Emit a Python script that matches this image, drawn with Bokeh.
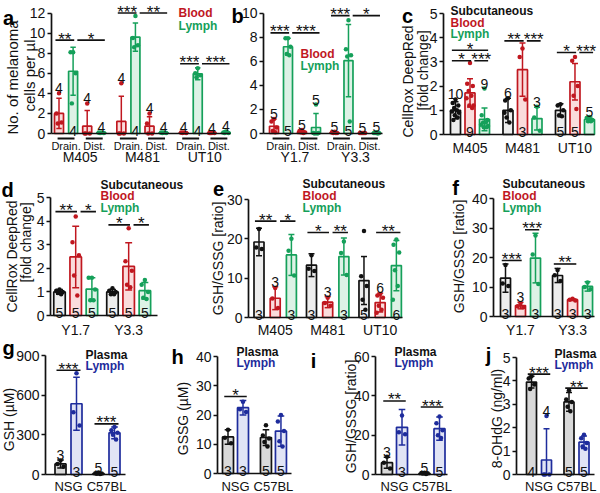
import math
from bokeh.plotting import figure
from bokeh.models import Range1d, FixedTicker, LinearAxis, Label, ColumnDataSource
from bokeh.layouts import row, column
from bokeh.embed import file_html
from bokeh.resources import INLINE
from bokeh.core.properties import value

FONT = "Liberation Sans"
INK = "#111111"
RED = "#C0171F"
GREEN = "#15A05A"
BLUE = "#1E2C9C"
SUB_FILL = "#EDEDED"
RED_FILL = "#FADCDC"
GREEN_FILL = "#DDF2E6"
BLUE_FILL = "#E1E4F5"
PLASMA_FILL = "#D9D9D9"

# ---------------- data ----------------
# a : melanoma cells per ul
a_groups = ["M405", "M481", "UT10"]
a_sites = ["Drain.", "Dist."]
a_series = ["Blood", "Lymph"]
a_mean = [2.0, 6.2, 0.73, 0.1, 1.2, 9.6, 0.73, 0.1, 0.08, 5.95, 0.05, 0.1]
a_sd = [1.5, 2.4, 1.55, 0.05, 2.5, 1.4, 0.95, 0.05, 0.05, 0.6, 0.03, 0.15]
a_n = [4, 4, 4, 4, 4, 4, 4, 4, 4, 4, 4, 4]
a_points = [[4.0, 2.0, 1.1, 1.0], [8.1, 8.1, 6.0, 3.0], [3.0, 0.0, 0.0, 0.0], [0.1, 0.1, 0.05, 0.05],
            [5.0, 0.0, 0.0, 0.0], [11.7, 9.5, 8.8, 8.6], [2.0, 1.0, 0.0, 0.0], [0.1, 0.1, 0.05, 0.05],
            [0.1, 0.1, 0.05, 0.05], [6.5, 6.0, 5.8, 5.6], [0.05, 0.05, 0.05, 0.05], [0.2, 0.1, 0.05, 0.05]]
a_inside = [False, True, False, False, False, True, False, False, False, True, False, False]
a_sig = [(0, 1, 9.3, "**"), (1, 3, 9.3, "*"), (4, 5, 12.0, "***"), (5, 7, 12.0, "**"),
         (8, 9, 6.94, "***"), (9, 11, 6.94, "***")]
a_yticks = [0, 2, 4, 6, 8, 10, 12]

# b
b_groups = ["Y1.7", "Y3.3"]
b_sites = ["Drain.", "Dist."]
b_series = ["Blood", "Lymph"]
b_mean = [0.6, 7.2, 0.15, 0.5, 0.08, 6.05, 0.03, 0.05]
b_sd = [0.6, 0.7, 0.1, 1.15, 0.05, 3.0, 0.02, 0.05]
b_n = [5, 5, 5, 5, 5, 5, 5, 5]
b_points = [[1.2, 1.0, 0.5, 0.2, 0.1], [7.9, 7.9, 7.2, 6.6, 6.5], [0.3, 0.2, 0.1, 0.1, 0.05],
            [2.4, 0.05, 0.05, 0.0, 0.0], [0.15, 0.1, 0.05, 0.05, 0.05], [9.4, 7.0, 6.5, 6.4, 1.0],
            [0.05, 0.05, 0.05, 0.05, 0.05], [0.1, 0.05, 0.05, 0.05, 0.0]]
b_inside = [False, True, False, False, False, True, False, False]
b_sig = [(0, 1, 8.35, "***"), (1, 3, 8.35, "***"), (4, 5, 9.78, "***"), (5, 7, 9.78, "*")]
b_yticks = [0, 2, 4, 6, 8, 10]

# c
c_groups = ["M405", "M481", "UT10"]
c_series = ["Subcutaneous", "Blood", "Lymph"]
c_mean = [1.0, 1.72, 0.63, 1.0, 2.68, 0.66, 1.0, 2.18, 0.62]
c_sd = [0.35, 0.58, 0.47, 0.5, 1.1, 0.47, 0.27, 0.75, 0.1]
c_n = [10, 9, 9, 6, 3, 3, 5, 5, 5]
c_points = [[1.45, 1.3, 1.2, 1.1, 1.0, 0.95, 0.9, 0.8, 0.7, 0.6],
            [2.95, 2.1, 2.0, 1.8, 1.6, 1.5, 1.2, 1.2, 1.1],
            [1.9, 0.8, 0.6, 0.5, 0.5, 0.4, 0.35, 0.3, 0.3],
            [1.5, 1.4, 1.0, 0.7, 0.5, 0.9], [3.55, 3.2, 1.45], [1.15, 0.7, 0.15],
            [1.25, 1.2, 1.0, 0.8, 0.75], [3.2, 3.05, 2.0, 1.6, 1.05], [0.72, 0.68, 0.6, 0.55, 0.55]]
c_inside = [False, True, False, False, True, False, True, True, False]
c_sig = [(0, 2, 3.48, "*"), (0, 1, 3.05, "*"), (1, 2, 3.05, "***"), (3, 4, 3.87, "**"),
         (4, 5, 3.87, "***"), (6, 7, 3.39, "*"), (7, 8, 3.39, "***")]
c_yticks = [0, 1, 2, 3, 4, 5]

# d
d_groups = ["Y1.7", "Y3.3"]
d_series = ["Subcutaneous", "Blood", "Lymph"]
d_mean = [1.0, 2.48, 1.12, 1.0, 2.08, 1.05]
d_sd = [0.1, 1.3, 0.48, 0.1, 1.0, 0.35]
d_n = [5, 5, 5, 5, 5, 5]
d_points = [[1.1, 1.05, 1.0, 0.95, 0.9], [4.2, 3.1, 2.55, 1.7, 0.85], [1.6, 1.6, 1.1, 0.65, 0.65],
            [1.15, 1.05, 1.0, 0.9, 0.9], [3.7, 2.3, 1.9, 1.3, 1.2], [1.5, 1.3, 1.0, 0.75, 0.7]]
d_inside = [True, True, True, True, True, True]
d_sig = [(0, 1, 4.4, "**"), (1, 2, 4.4, "*"), (3, 4, 3.84, "*"), (4, 5, 3.84, "*")]
d_yticks = [0, 1, 2, 3, 4, 5]

# e
e_groups = ["M405", "M481", "UT10"]
e_series = ["Subcutaneous", "Blood", "Lymph"]
e_mean = [19.2, 4.9, 15.9, 13.3, 3.9, 15.5, 9.4, 3.8, 13.2]
e_sd = [3.5, 2.9, 5.2, 2.9, 1.4, 4.7, 6.1, 2.4, 6.4]
e_n = [3, 3, 3, 3, 3, 3, 5, 6, 6]
e_points = [[22.5, 17.8, 17.4], [7.5, 4.8, 2.4], [20.0, 17.0, 10.7],
            [15.8, 12.4, 11.8], [5.0, 3.7, 3.0], [19.3, 16.4, 10.8],
            [22.0, 10.5, 8.0, 4.5, 2.0], [6.0, 5.6, 5.0, 3.0, 2.0, 1.2],
            [19.8, 18.5, 16.5, 12.0, 8.0, 4.5]]
e_inside = [True, False, True, True, False, True, True, False, True]
e_sig = [(0, 1, 24.5, "**"), (1, 2, 24.5, "*"), (3, 4, 21.6, "*"), (4, 5, 21.6, "**"),
         (7, 8, 21.6, "**")]
e_yticks = [0, 10, 20, 30]

# f
f_groups = ["Y1.7", "Y3.3"]
f_series = ["Subcutaneous", "Blood", "Lymph"]
f_mean = [13.0, 3.7, 19.8, 13.9, 5.7, 10.2]
f_sd = [4.8, 1.1, 8.4, 2.4, 0.3, 1.6]
f_n = [3, 3, 3, 3, 3, 3]
f_points = [[17.5, 11.2, 10.3], [4.5, 3.5, 3.1], [27.5, 21.0, 11.0],
            [15.8, 14.0, 12.0], [6.0, 5.7, 5.4], [11.5, 10.0, 9.2]]
f_inside = [True, False, True, True, True, True]
f_sig = [(0, 1, 19.0, "***"), (1, 2, 29.4, "***"), (3, 4, 17.8, "**")]
f_yticks = [0, 10, 20, 30, 40]

# g
g_groups = ["NSG", "C57BL"]
g_series = ["Plasma", "Lymph"]
g_mean = [80, 535, 8, 315]
g_sd = [30, 200, 6, 45]
g_n = [3, 3, 5, 5]
g_points = [[105, 80, 58], [765, 470, 370], [15, 10, 8, 5, 3], [360, 335, 315, 300, 265]]
g_inside = [False, True, False, True]
g_sig = [(0, 1, 789, "***"), (2, 3, 383, "***")]
g_yticks = [0, 300, 600, 900]

# h
h_groups = ["NSG", "C57BL"]
h_series = ["Plasma", "Lymph"]
h_mean = [12.5, 22.5, 12.3, 14.5]
h_sd = [2.5, 2.5, 2.7, 5.2]
h_n = [3, 3, 5, 5]
h_points = [[15.0, 12.2, 10.3], [24.5, 22.0, 21.0], [16.5, 13.0, 12.0, 10.8, 9.2],
            [20.0, 17.8, 14.5, 11.0, 9.2]]
h_inside = [True, True, True, True]
h_sig = [(0, 1, 26.3, "*")]
h_yticks = [0, 10, 20, 30, 40]

# i
i_groups = ["NSG", "C57BL"]
i_series = ["Plasma", "Lymph"]
i_mean = [6.0, 24.0, 0.6, 23.3]
i_sd = [2.8, 9.0, 0.3, 5.9]
i_n = [3, 3, 5, 5]
i_points = [[9.0, 6.0, 3.0], [30.0, 21.5, 20.5], [0.9, 0.7, 0.6, 0.5, 0.3],
            [29.5, 26.0, 22.5, 20.0, 18.5]]
i_inside = [False, True, False, True]
i_sig = [(0, 1, 37.4, "**"), (2, 3, 34.3, "***")]
i_yticks = [0, 20, 40, 60]

# j
j_groups = ["NSG", "C57BL"]
j_series = ["Plasma", "Lymph"]
j_mean = [3.95, 0.62, 3.1, 1.38]
j_sd = [0.25, 1.33, 0.4, 0.27]
j_n = [4, 4, 5, 5]
j_points = [[4.2, 4.1, 3.85, 3.65], [2.5, 0.0, 0.0, 0.0], [3.6, 3.2, 3.1, 2.9, 2.7],
            [1.7, 1.55, 1.35, 1.2, 1.1]]
j_inside = [True, False, True, True]
j_sig = [(0, 1, 4.29, "***"), (2, 3, 3.69, "**")]
j_yticks = [0, 1, 2, 3, 4, 5]

# ---------------- layout helpers (pixel positions of the page) ----------------
ROWS = [(0, 170), (171, 167), (340, 156)]   # (y of row top on the reference grid, height)
OFF = [0.0, -0.28, 0.28, -0.14, 0.14, -0.35, 0.35, -0.07, 0.21, -0.21]


def style_axis(ax, size):
    ax.major_label_text_font = FONT
    ax.major_label_text_font_size = size
    ax.major_label_text_color = INK
    ax.axis_line_color = INK
    ax.axis_line_width = 1.7
    ax.major_tick_line_color = INK
    ax.major_tick_line_width = 1.6
    ax.minor_tick_line_color = None
    ax.minor_tick_out = 0
    ax.minor_tick_in = 0


def build(sp):
    r_top, H = ROWS[sp["row"]]
    left = sp["x0"]
    W = sp["x1"] - sp["x0"]
    fx = lambda x: x - left
    fy = lambda y: y - r_top
    ty, by = fy(sp["ytop"]), fy(sp["base"])
    yt = sp["yticks"]
    ymax = yt[-1]
    ppu = (by - ty) / ymax
    ys0 = (by - H) / ppu
    ys1 = by / ppu

    groups, series, sites = sp["groups"], sp["series"], sp.get("sites")
    nser = len(series)
    nsite = len(sites) if sites else 1
    nb = nser * nsite
    du = 1.0 / sp["stride"]
    ppg = sp["stride"] * sp["unit"]
    pos = [gi + (b - (nb - 1) / 2.0) * du for gi in range(len(groups)) for b in range(nb)]
    xs0 = pos[0] - fx(sp["first"]) / ppg
    xs1 = xs0 + W / ppg
    xaxis_at = xs0 + fx(sp["axis"]) / ppg
    xend = xs0 + fx(sp["end"]) / ppg
    bw = sp["barw"] / ppg

    p = figure(width=W, height=H, x_range=Range1d(xs0, xs1), y_range=Range1d(ys0, ys1),
               toolbar_location=None, output_backend="svg", min_border=0)
    p.outline_line_color = None
    p.xgrid.visible = False
    p.ygrid.visible = False
    p.background_fill_color = "white"

    mean, sd = sp["mean"], sp["sd"]
    cols = [sp["colors"][k % nser] for k in range(len(pos))]
    fills = [sp["fills"][k % nser] for k in range(len(pos))]
    p.vbar(x=pos, top=mean, bottom=0, width=bw, fill_color=fills, line_color=cols, line_width=1.7)

    lo = [max(0.0, m - s) for m, s in zip(mean, sd)]
    hi = [m + s for m, s in zip(mean, sd)]
    cw = 0.3 * bw
    p.segment(x0=pos, y0=lo, x1=pos, y1=hi, line_color=cols, line_width=1.5)
    p.segment(x0=[x - cw for x in pos], y0=hi, x1=[x + cw for x in pos], y1=hi,
              line_color=cols, line_width=1.5)
    li = [k for k in range(len(pos)) if mean[k] - sd[k] > 0]
    p.segment(x0=[pos[k] - cw for k in li], y0=[lo[k] for k in li],
              x1=[pos[k] + cw for k in li], y1=[lo[k] for k in li],
              line_color=[cols[k] for k in li], line_width=1.5)

    ptx, pty, ptc = [], [], []
    for k, vals in enumerate(sp["points"]):
        for t, v in enumerate(vals):
            ptx.append(pos[k] + OFF[t % len(OFF)] * bw)
            pty.append(v)
            ptc.append(cols[k])
    p.scatter(x="x", y="y", color="c", size=4.5, line_width=0,
              source=ColumnDataSource(dict(x=ptx, y=pty, c=ptc)))

    nx, ny, nt = [], [], []
    for k in range(len(pos)):
        if sp["inside"][k]:
            yy = 2.5 / ppu
        else:
            yy = max([hi[k]] + list(sp["points"][k])) + 5.0 / ppu
        nx.append(pos[k]); ny.append(yy); nt.append(str(sp["n"][k]))
    p.text(x=nx, y=ny, text=nt, text_font=value(FONT), text_font_size="14px",
           text_align="center", text_baseline="alphabetic", text_color=INK)

    starts = set(c[0] for c in sp["sig"])
    ends = set()
    sx0, sx1, syy, tx, tyy, tt = [], [], [], [], [], []
    for (i, j, h, s) in sp["sig"]:
        xa = pos[i] + (0.3 * du if i in ends else -0.25 * du)
        xb = pos[j] + (0.08 * du if j in starts else 0.25 * du)
        ends.add(j)
        sx0.append(xa); sx1.append(xb); syy.append(h)
        tx.append((xa + xb) / 2.0); tyy.append(h + 1.0 / ppu); tt.append(s)
    p.segment(x0=sx0, y0=syy, x1=sx1, y1=syy, line_color=INK, line_width=1.6)
    p.text(x=tx, y=tyy, text=tt, text_font=value(FONT), text_font_size="17px",
           text_align="center", text_baseline="alphabetic", text_color=INK)

    # y axis, drawn at its place inside the plot area
    yax = p.yaxis[0]
    yax.ticker = FixedTicker(ticks=yt)
    yax.fixed_location = xaxis_at
    yax.bounds = (0, ymax)
    style_axis(yax, "14px")
    yax.major_tick_out = 4
    yax.major_tick_in = 0
    yax.major_label_standoff = 2

    xa0 = p.xaxis[0]
    style_axis(xa0, "14px")
    xa0.fixed_location = 0
    xa0.bounds = (xaxis_at, xend)
    xa0.major_tick_line_color = None
    xa0.major_tick_out = 0
    xa0.major_tick_in = 0
    if sites:
        uy = -5.0 / ppu
        ux0, ux1 = [], []
        for gi in range(len(groups)):
            for si in range(nsite):
                b0 = gi * nb + si * nser
                ux0.append(pos[b0] - 0.1 * du)
                ux1.append(pos[b0 + nser - 1] + 0.1 * du)
        p.segment(x0=ux0, y0=[uy] * len(ux0), x1=ux1, y1=[uy] * len(ux0),
                  line_color=INK, line_width=2)
        site_ticks, site_lab = [], {}
        for gi in range(len(groups)):
            for si in range(nsite):
                t = gi + (si * nser + (nser - 1) / 2.0 - (nb - 1) / 2.0) * du
                site_ticks.append(t)
                site_lab[t] = sites[si]
        xa0.ticker = FixedTicker(ticks=site_ticks)
        xa0.major_label_overrides = site_lab
        xa0.major_label_text_font_size = "11px"
        xa0.major_label_standoff = 6
        ga = LinearAxis(ticker=FixedTicker(ticks=list(range(len(groups)))),
                        major_label_overrides={gi: g for gi, g in enumerate(groups)})
        style_axis(ga, "14px")
        ga.fixed_location = 0
        ga.axis_line_color = None
        ga.major_tick_line_color = None
        ga.major_tick_out = 0
        ga.major_tick_in = 0
        ga.major_label_standoff = 15
        p.add_layout(ga, "below")
    else:
        xa0.ticker = FixedTicker(ticks=list(range(len(groups))))
        xa0.major_label_overrides = {gi: g for gi, g in enumerate(groups)}
        xa0.major_label_standoff = sp.get("xstandoff", 4)
        xa0.major_label_text_font_size = sp.get("xsize", "14px")

    sxl = lambda x: fx(x)
    syl = lambda y: H - fy(y)
    lx, lyy = sp["letter_xy"]
    p.add_layout(Label(x=sxl(lx), y=syl(lyy), x_units="screen", y_units="screen",
                       text=sp["letter"], text_font=FONT, text_font_size="20px",
                       text_font_style="bold", text_align="center",
                       text_baseline="alphabetic", text_color="black"))
    for (txt, cx, cy, size) in sp.get("ylabel", []):
        p.add_layout(Label(x=sxl(cx), y=syl(cy), x_units="screen", y_units="screen",
                           angle=math.pi / 2, text=txt, text_font=FONT,
                           text_font_size=size, text_align="center",
                           text_baseline="middle", text_color=INK))
    for (txt, col), yy in zip(sp["legend"], sp["legend_y"]):
        p.add_layout(Label(x=sxl(sp["legend_x"]), y=syl(yy), x_units="screen", y_units="screen",
                           text=txt, text_font=FONT, text_font_size=sp.get("legend_size", "12px"),
                           text_font_style="bold", text_align="left", text_baseline="middle",
                           text_color=col))
    return p


LEG3 = [("Subcutaneous", INK), ("Blood", RED), ("Lymph", GREEN)]
LEG2 = [("Plasma", INK), ("Lymph", BLUE)]

specs = [
    dict(row=0, x0=0, x1=231, axis=50.7, end=230, first=58.5, unit=14.1, stride=4.42, barw=9,
         ytop=12.5, base=133, yticks=a_yticks, groups=a_groups, sites=a_sites,
         series=a_series, colors=[RED, GREEN], fills=[RED_FILL, GREEN_FILL], mean=a_mean, sd=a_sd,
         n=a_n, points=a_points, inside=a_inside, sig=a_sig, letter="a", letter_xy=(8, 17),
         ylabel=[("No. of melanoma", 12, 77, "15px"), ("cells per µl", 29, 75, "15px")],
         legend=[("Blood", RED), ("Lymph", GREEN)], legend_x=178, legend_y=[12.5, 25]),
    dict(row=0, x0=231, x1=398, axis=263, end=382, first=273.5, unit=14, stride=4.32, barw=9,
         ytop=12.5, base=133, yticks=b_yticks, groups=b_groups, sites=b_sites,
         series=b_series, colors=[RED, GREEN], fills=[RED_FILL, GREEN_FILL], mean=b_mean, sd=b_sd,
         n=b_n, points=b_points, inside=b_inside, sig=b_sig, letter="b", letter_xy=(237, 15),
         legend=[("Blood", RED), ("Lymph", GREEN)], legend_x=300, legend_y=[53, 65]),
    dict(row=0, x0=398, x1=600, axis=443, end=594, first=455, unit=14.5, stride=3.62, barw=10,
         ytop=13, base=134, yticks=c_yticks, groups=c_groups, series=c_series,
         colors=[INK, RED, GREEN], fills=[SUB_FILL, RED_FILL, GREEN_FILL], mean=c_mean, sd=c_sd,
         n=c_n, points=c_points, inside=c_inside, sig=c_sig, letter="c", letter_xy=(407, 15),
         ylabel=[("CellRox DeepRed", 407, 81, "14px"), ("[fold change]", 422, 70, "14px")],
         legend=LEG3, legend_x=450, legend_y=[10, 22, 33], xstandoff=5),
    dict(row=1, x0=0, x1=196, axis=50, end=157, first=59, unit=16.2, stride=3.27, barw=11.5,
         ytop=198, base=316, yticks=d_yticks, groups=d_groups, series=d_series,
         colors=[INK, RED, GREEN], fills=[SUB_FILL, RED_FILL, GREEN_FILL], mean=d_mean, sd=d_sd,
         n=d_n, points=d_points, inside=d_inside, sig=d_sig, letter="d", letter_xy=(7, 190),
         ylabel=[("CellRox DeepRed", 11.5, 257, "14px"), ("[fold change]", 25, 243, "14px")],
         legend=LEG3, legend_x=100, legend_y=[185, 196, 208], xstandoff=6),
    dict(row=1, x0=196, x1=425, axis=248, end=402, first=258.5, unit=16.2, stride=3.24, barw=10,
         ytop=200, base=318, yticks=e_yticks, groups=e_groups, series=e_series,
         colors=[INK, RED, GREEN], fills=[SUB_FILL, RED_FILL, GREEN_FILL], mean=e_mean, sd=e_sd,
         n=e_n, points=e_points, inside=e_inside, sig=e_sig, letter="e", letter_xy=(218, 189),
         ylabel=[("GSH/GSSG [ratio]", 217, 259, "14px")],
         legend=LEG3, legend_x=302, legend_y=[184, 196, 208], xstandoff=4),
    dict(row=1, x0=425, x1=600, axis=493, end=594, first=505, unit=15, stride=3.47, barw=10,
         ytop=199, base=317, yticks=f_yticks, groups=f_groups, series=f_series,
         colors=[INK, RED, GREEN], fills=[SUB_FILL, RED_FILL, GREEN_FILL], mean=f_mean, sd=f_sd,
         n=f_n, points=f_points, inside=f_inside, sig=f_sig, letter="f", letter_xy=(455, 188),
         ylabel=[("GSH/GSSG [ratio]", 458, 257, "14px")],
         legend=LEG3, legend_x=502, legend_y=[184, 196, 208], xstandoff=5),
    dict(row=2, x0=0, x1=150, axis=45, end=125, first=60, unit=16, stride=2.375, barw=11,
         ytop=358, base=477, yticks=g_yticks, groups=g_groups, series=g_series,
         colors=[INK, BLUE], fills=[PLASMA_FILL, BLUE_FILL], mean=g_mean, sd=g_sd,
         n=g_n, points=g_points, inside=g_inside, sig=g_sig, letter="g", letter_xy=(8, 350),
         ylabel=[("GSH (µM)", 8, 422, "14px")],
         legend=LEG2, legend_x=85, legend_y=[357, 368], xstandoff=4, xsize="13px"),
    dict(row=2, x0=150, x1=300, axis=217, end=291, first=227.5, unit=15, stride=2.53, barw=11,
         ytop=359, base=476, yticks=h_yticks, groups=h_groups, series=h_series,
         colors=[INK, BLUE], fills=[PLASMA_FILL, BLUE_FILL], mean=h_mean, sd=h_sd,
         n=h_n, points=h_points, inside=h_inside, sig=h_sig, letter="h", letter_xy=(177, 359),
         ylabel=[("GSSG (µM)", 182, 421, "14px")],
         legend=LEG2, legend_x=236, legend_y=[354, 365], xstandoff=5, xsize="13px"),
    dict(row=2, x0=300, x1=453, axis=375, end=447, first=386.5, unit=15, stride=2.5, barw=11,
         ytop=359, base=477, yticks=i_yticks, groups=i_groups, series=i_series,
         colors=[INK, BLUE], fills=[PLASMA_FILL, BLUE_FILL], mean=i_mean, sd=i_sd,
         n=i_n, points=i_points, inside=i_inside, sig=i_sig, letter="i", letter_xy=(313, 363),
         ylabel=[("GSH/GSSG [ratio]", 350, 419, "14px")],
         legend=LEG2, legend_x=394, legend_y=[354, 365], xstandoff=4, xsize="13px"),
    dict(row=2, x0=453, x1=600, axis=516, end=594, first=531, unit=15, stride=2.5, barw=10,
         ytop=360, base=477, yticks=j_yticks, groups=j_groups, series=j_series,
         colors=[INK, BLUE], fills=[PLASMA_FILL, BLUE_FILL], mean=j_mean, sd=j_sd,
         n=j_n, points=j_points, inside=j_inside, sig=j_sig, letter="j", letter_xy=(488, 357),
         ylabel=[("8-OHdG (ng/ml)", 496, 421, "14px")],
         legend=LEG2, legend_x=554, legend_y=[356, 367], xstandoff=4, xsize="13px"),
]

figs = [build(s) for s in specs]
layout = column(row(*figs[0:3]), row(*figs[3:6]), row(*figs[6:10]))

open("out.html", "w").write(file_html(layout, INLINE))
